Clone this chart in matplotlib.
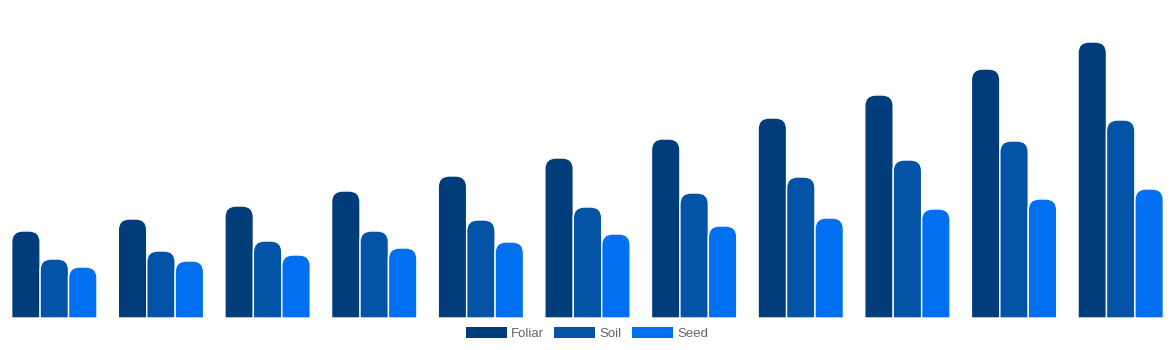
import matplotlib
matplotlib.use("Agg")
import matplotlib.pyplot as plt
from matplotlib.path import Path
from matplotlib.patches import PathPatch, Patch
import numpy as np

plt.rcParams['font.family'] = ['Liberation Sans', 'DejaVu Sans']

categories = [str(i) for i in range(1, 12)]
series_names = ["Foliar", "Soil", "Seed"]
foliar = [87, 99, 112, 127, 142, 160, 179, 200, 223, 249, 276]
soil = [59, 67, 77, 87, 98, 111, 125, 141, 158, 177, 198]
seed = [51, 57, 63, 70, 76, 84, 92, 100, 109, 119, 129]
colors = ["#023d7b", "#0353a6", "#006ff0"]

W, H = 1174, 350
fig = plt.figure(figsize=(W / 100, H / 100), dpi=100)
ax = fig.add_axes([1 / W, 32 / H, 1 - 1 / W, 300 / H])
n = len(categories)
ax.set_xlim(-0.5, n - 0.5)
ax.set_ylim(0, 300)
ax.axis('off')

x = np.arange(n)
bw = 0.8 / 3
px_per_x = (W - 1) / n
r_px = 11
rx = r_px / px_per_x
ry = r_px

def rounded_bar(x0, w, h, color):
    r_y = min(ry, h)
    verts = [
        (x0, 0), (x0, h - r_y),
        (x0, h), (x0 + rx, h),
        (x0 + w - rx, h),
        (x0 + w, h), (x0 + w, h - r_y),
        (x0 + w, 0), (x0, 0),
    ]
    codes = [Path.MOVETO, Path.LINETO, Path.CURVE3, Path.CURVE3, Path.LINETO,
             Path.CURVE3, Path.CURVE3, Path.LINETO, Path.CLOSEPOLY]
    ax.add_patch(PathPatch(Path(verts, codes), facecolor=color,
                           edgecolor='white', linewidth=1.0))

for i, vals in enumerate([foliar, soil, seed]):
    for xi, v in zip(x, vals):
        x0 = xi - 0.4 + i * bw
        rounded_bar(x0, bw, v, colors[i])

handles = [Patch(facecolor=c, edgecolor='none') for c in colors]
fig.legend(handles, series_names, loc='center', bbox_to_anchor=(0.5, 1 - 333.5 / H),
           ncol=3, frameon=False, fontsize=9.5, labelcolor='#666666',
           handlelength=3.1, handleheight=0.9, handletextpad=0.35,
           columnspacing=0.75)

fig.savefig("out.png", dpi=100)
